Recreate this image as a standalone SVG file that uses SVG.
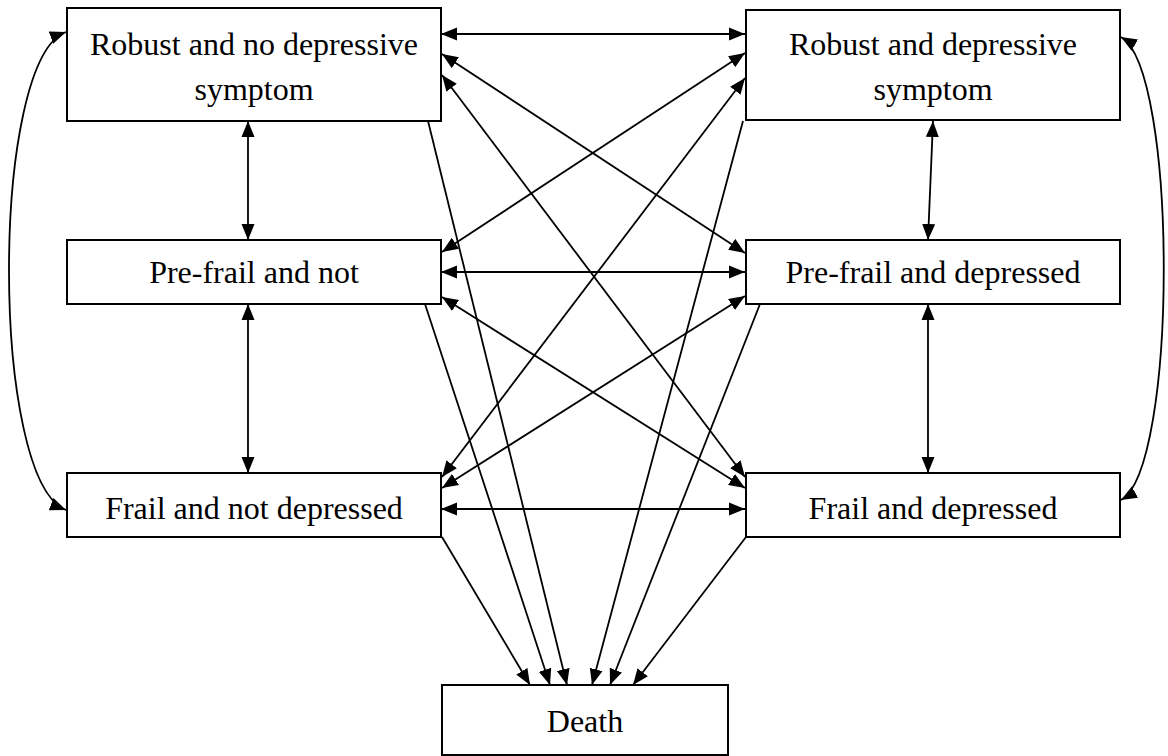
<svg xmlns="http://www.w3.org/2000/svg" width="1168" height="756" viewBox="0 0 1168 756">
<style>
.box{fill:#fff;stroke:#000;stroke-width:2}
.lbl{font-family:"Liberation Serif","Times New Roman",serif;font-size:32px;fill:#000;text-anchor:middle}
.c{fill:none;stroke:#000;stroke-width:1.8}
.bi{marker-start:url(#ah);marker-end:url(#ah)}
.uni{marker-end:url(#ah)}
</style>
<defs>
<marker id="ah" markerUnits="userSpaceOnUse" markerWidth="17" markerHeight="14" refX="16" refY="6.5" orient="auto-start-reverse" viewBox="0 0 17 13">
<path d="M0,0 L16,6.5 L0,13 z" fill="#000"/>
</marker>
</defs>
<rect width="1168" height="756" fill="#fff"/>
<g id="connectors">
<line class="c bi" x1="441" y1="34" x2="745" y2="34"/>
<line class="c bi" x1="441" y1="272" x2="745" y2="272"/>
<line class="c bi" x1="441" y1="509" x2="745" y2="509"/>
<line class="c bi" x1="248" y1="121" x2="248" y2="240"/>
<line class="c bi" x1="248" y1="304" x2="248" y2="473"/>
<line class="c bi" x1="933" y1="121" x2="928" y2="240"/>
<line class="c bi" x1="928" y1="304" x2="928" y2="473"/>
<line class="c bi" x1="442" y1="54" x2="745" y2="253"/>
<line class="c bi" x1="442" y1="75" x2="745" y2="477"/>
<line class="c bi" x1="745" y1="53" x2="442" y2="252"/>
<line class="c bi" x1="745" y1="78" x2="442" y2="477"/>
<line class="c bi" x1="442" y1="297" x2="745" y2="488"/>
<line class="c bi" x1="745" y1="296" x2="442" y2="488"/>
<path class="c bi" d="M66 32 C -10 60, -10 480, 66 510"/>
<path class="c bi" d="M1121 37 C 1178 70, 1178 468, 1121 500"/>
<line class="c uni" x1="442" y1="537" x2="530" y2="685"/>
<line class="c uni" x1="425" y1="304" x2="550" y2="685"/>
<line class="c uni" x1="428" y1="121" x2="567" y2="685"/>
<line class="c uni" x1="743" y1="121" x2="592" y2="685"/>
<line class="c uni" x1="760" y1="304" x2="610" y2="685"/>
<line class="c uni" x1="746" y1="537" x2="633" y2="685"/>
</g>
<g id="robust-no-dep">
<rect class="box" x="67" y="8" width="374" height="113"/>
<text class="lbl" x="254" y="55">Robust and no depressive</text>
<text class="lbl" x="254" y="100">symptom</text>
</g>
<g id="robust-dep">
<rect class="box" x="746" y="10" width="374" height="110"/>
<text class="lbl" x="933" y="55">Robust and depressive</text>
<text class="lbl" x="933" y="100">symptom</text>
</g>
<g id="prefrail-not">
<rect class="box" x="67" y="240" width="374" height="64"/>
<text class="lbl" x="254" y="283">Pre-frail and not</text>
</g>
<g id="prefrail-dep">
<rect class="box" x="746" y="240" width="374" height="64"/>
<text class="lbl" x="933" y="283">Pre-frail and depressed</text>
</g>
<g id="frail-not">
<rect class="box" x="67" y="473" width="374" height="64"/>
<text class="lbl" x="254" y="519">Frail and not depressed</text>
</g>
<g id="frail-dep">
<rect class="box" x="746" y="473" width="374" height="64"/>
<text class="lbl" x="933" y="519">Frail and depressed</text>
</g>
<g id="death">
<rect class="box" x="442" y="685" width="286" height="70"/>
<text class="lbl" x="585" y="732">Death</text>
</g>
</svg>
